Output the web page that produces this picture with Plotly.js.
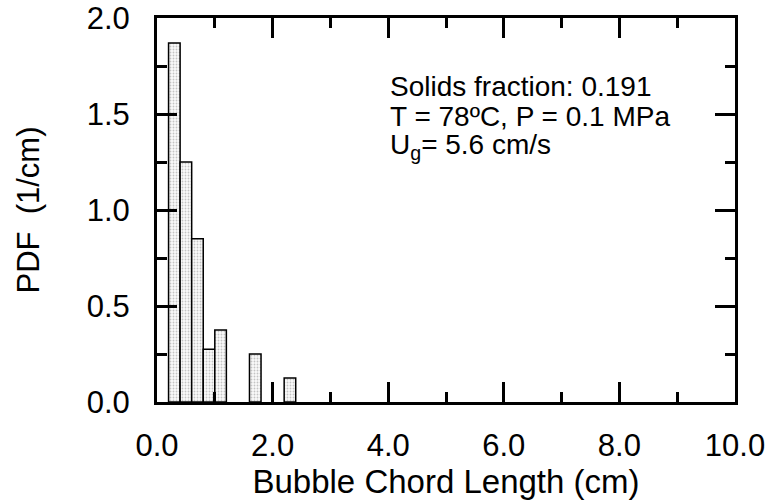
<!DOCTYPE html>
<html>
<head>
<meta charset="utf-8">
<script src="https://cdn.plot.ly/plotly-3.0.1.min.js"></script>
<style>html,body{margin:0;padding:0;background:#fff;}#chart{width:770px;height:500px;}</style>
</head>
<body>
<div id="chart"></div>
<script>
// Bin centres (cm) and PDF values (1/cm)
const binCenters = [0.3, 0.5, 0.7, 0.9, 1.1, 1.7, 2.3];
const pdfValues  = [1.87, 1.25, 0.85, 0.275, 0.375, 0.25, 0.125];
const binWidth = 0.2;
const xTickVals = [0, 2, 4, 6, 8, 10];
const xTickText = ["0.0", "2.0", "4.0", "6.0", "8.0", "10.0"];
const yTickVals = [0, 0.5, 1.0, 1.5, 2.0];
const yTickText = ["0.0", "0.5", "1.0", "1.5", "2.0"];
const noteLines = ["Solids fraction: 0.191", "T = 78ºC, P = 0.1 MPa", "U<sub>g</sub>= 5.6 cm/s"];
const noteY = [1.643, 1.488, 1.333];

const FONT = "Liberation Sans, Arial, sans-serif";

const trace = {
  type: "bar",
  x: binCenters,
  y: pdfValues,
  width: binCenters.map(() => binWidth),
  marker: {
    color: "#f6f6f6",
    line: {color: "#000", width: 1.5},
    pattern: {shape: ".", fgcolor: "#c4c4c4", bgcolor: "#fbfbfb", size: 3, solidity: 0.3}
  },
  hoverinfo: "skip"
};

const axisCommon = {
  showline: true, linecolor: "#000", linewidth: 3,
  mirror: "ticks", ticks: "inside", ticklen: 20, tickwidth: 3, tickcolor: "#000",
  showgrid: false, zeroline: false,
  tickfont: {family: FONT, size: 31, color: "#000"}
};

const layout = {
  width: 770, height: 500,
  margin: {l: 157, r: 35, t: 18, b: 98},
  paper_bgcolor: "#fff", plot_bgcolor: "#fff",
  showlegend: false,
  bargap: 0,
  xaxis: Object.assign({}, axisCommon, {
    range: [0, 10], tickvals: xTickVals, ticktext: xTickText,
    minor: {dtick: 1, ticks: "inside", ticklen: 10, tickwidth: 3, tickcolor: "#000"},
    ticklabelstandoff: 14,
    title: {text: "Bubble Chord Length (cm)", font: {family: FONT, size: 33, color: "#000"}, standoff: 0}
  }),
  yaxis: Object.assign({}, axisCommon, {
    range: [0, 2], tickvals: yTickVals, ticktext: yTickText,
    minor: {dtick: 0.25, ticks: "inside", ticklen: 10, tickwidth: 3, tickcolor: "#000"},
    ticklabelstandoff: 18,
    title: {text: "PDF\u00a0 (1/cm)", font: {family: FONT, size: 31, color: "#000"}, standoff: 38}
  }),
  annotations: noteLines.map((t, i) => ({
    xref: "x", yref: "y", x: 4.0, y: noteY[i],
    xanchor: "left", yanchor: "middle", align: "left", showarrow: false,
    text: t,
    font: {family: FONT, size: 28, color: "#000"}
  }))
};

Plotly.newPlot("chart", [trace], layout, {staticPlot: true, displayModeBar: false});
</script>
</body>
</html>
